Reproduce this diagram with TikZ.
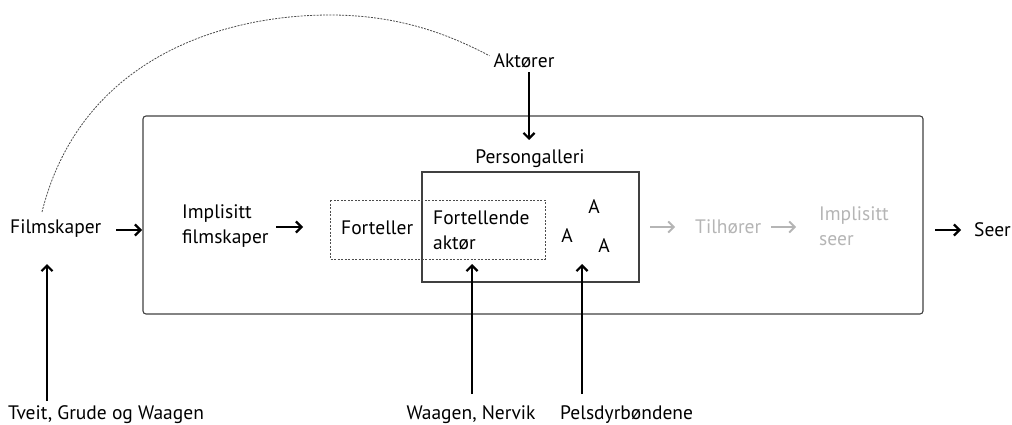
\documentclass[tikz,border=0pt]{standalone}
\usepackage{fontspec}
\setmainfont{PT Sans}
\usetikzlibrary{arrows.meta}
\definecolor{lightg}{HTML}{B5B5B5}
\begin{document}
\begin{tikzpicture}[x=1pt,y=-1pt,
  lbl/.style={font=\fontsize{19.5}{25}\selectfont, inner sep=0pt, align=left},
  glbl/.style={lbl, text=lightg},
  arr/.style={line width=2.6pt, -{Straight Barb[length=5.5pt,width=11pt,line width=2.2pt]}},
  garr/.style={line width=2pt, draw=lightg, -{Straight Barb[length=5.5pt,width=11pt,line width=1.8pt]}},
  frame/.style={draw=black!75, line width=1.1pt}]
\useasboundingbox (0,0) rectangle (1012,425);
% boxes
\draw[frame, rounded corners=3pt] (143,116) rectangle (923,314);
\draw[frame] (422,172) rectangle (639,282);
\draw[draw=black!70, line width=0.9pt, dash pattern=on 2pt off 1.5pt] (330,200) rectangle (545,259);
% labels
\node[lbl, anchor=west] (film) at (10,229) {Filmskaper};
\node[lbl, anchor=west] (impf) at (182,226) {Implisitt\\filmskaper};
\node[lbl, anchor=west] (fort) at (341,228) {Forteller};
\node[lbl, anchor=west] (forta) at (433,230) {Fortellende\\aktør};
\node[lbl] (pg) at (530,159) {Persongalleri};
\node[lbl] (akt) at (524,61) {Aktører};
\node[lbl] (a1) at (594,207) {A};
\node[lbl] (a2) at (567,236) {A};
\node[lbl] (a3) at (604,246) {A};
\node[glbl, anchor=west] (tilh) at (695,227) {Tilhører};
\node[glbl, anchor=west] (imps) at (819,226) {Implisitt\\seer};
\node[lbl, anchor=east] (seer) at (1011,230) {Seer};
\node[lbl, anchor=base west] (src1) at (8,419) {Tveit, Grude og Waagen};
\node[lbl, anchor=base] (src2) at (471,419) {Waagen, Nervik};
\node[lbl, anchor=base west] (src3) at (560,419) {Pelsdyrbøndene};
% coordinates
\coordinate (c1a) at (116,230); \coordinate (c1b) at (142,230);
\coordinate (c2a) at (276,227); \coordinate (c2b) at (303,227);
\coordinate (c3a) at (650,227); \coordinate (c3b) at (675,227);
\coordinate (c4a) at (771,227); \coordinate (c4b) at (796,227);
\coordinate (c5a) at (935,230); \coordinate (c5b) at (961,230);
\coordinate (v1a) at (47,401); \coordinate (v1b) at (47,264);
\coordinate (v2a) at (472,394); \coordinate (v2b) at (472,264);
\coordinate (v3a) at (582,394); \coordinate (v3b) at (582,264);
\coordinate (ak) at (529,140);
% arrows
\draw[arr] (c1a) -- (c1b);
\draw[arr] (c2a) -- (c2b);
\draw[garr] (c3a) -- (c3b);
\draw[garr] (c4a) -- (c4b);
\draw[arr] (c5a) -- (c5b);
\draw[arr] (v1a) -- (v1b);
\draw[arr] (v2a) -- (v2b);
\draw[arr] (v3a) -- (v3b);
\draw[arr] (akt.south -| ak) ++(0,4) -- (ak);
% dashed curve
\draw[black!70, line width=0.8pt, dash pattern=on 2pt off 1.2pt]
  (film.north -| 42,0) ++(0,-8) .. controls (80,60) and (220,15) .. (330,15)
  .. controls (400,15) and (450,35) .. ([xshift=-4pt,yshift=-2pt]akt.north west);
\end{tikzpicture}
\end{document}
